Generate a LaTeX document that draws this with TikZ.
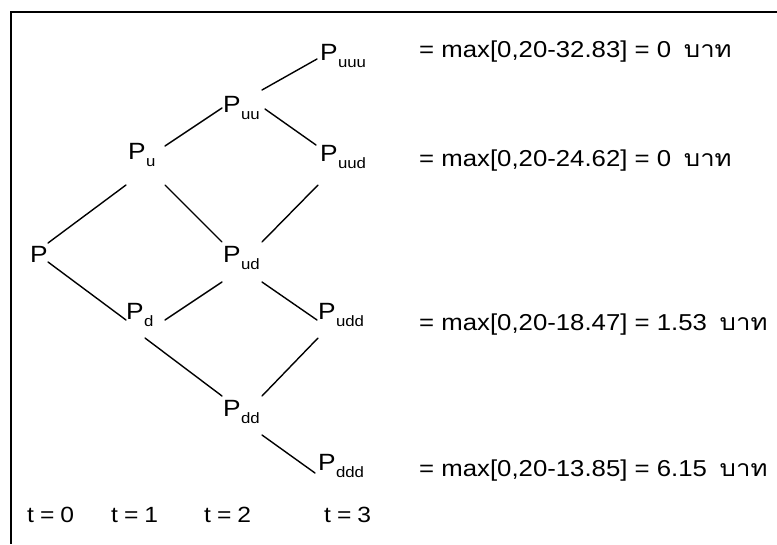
\documentclass[tikz,border=0pt]{standalone}
\usepackage{fontspec}
\setmainfont[FakeStretch=1.12]{Liberation Sans}
\newfontfamily\thaifont[Script=Thai,FakeStretch=1.12]{Loma}
\newcommand{\Pn}[1]{P\kern0.3pt\raisebox{-7pt}{\fontsize{15}{15}\selectfont #1}}
\newcommand{\baht}{\hspace{0.55em}{\thaifont บาท}}
\tikzset{
  tree/.style={inner sep=0pt, anchor=base west, font=\fontsize{23.5}{23.5}\selectfont},
  eqn/.style={inner sep=0pt, anchor=base west, font=\fontsize{23}{23}\selectfont},
  tlab/.style={inner sep=0pt, anchor=base west, font=\fontsize{22}{22}\selectfont},
  edge/.style={line width=1.4pt, line cap=round},
  frame/.style={line width=2pt}
}
\begin{document}
\begin{tikzpicture}[x=1pt,y=-1pt]
\useasboundingbox (0,0) rectangle (777,544);
% frame
\coordinate (fa) at (777,12);
\coordinate (fb) at (11,12);
\coordinate (fc) at (11,544);
\draw[frame] (fa) -- (fb) -- (fc);
% tree nodes
\node[tree] (P)    at (30,262)  {P};
\node[tree] (Pu)   at (128,159) {\Pn{u}};
\node[tree] (Pd)   at (126,319) {\Pn{d}};
\node[tree] (Puu)  at (223,112) {\Pn{uu}};
\node[tree] (Pud)  at (223,262) {\Pn{ud}};
\node[tree] (Pdd)  at (223,416) {\Pn{dd}};
\node[tree] (Puuu) at (320,60)  {\Pn{uuu}};
\node[tree] (Puud) at (320,161) {\Pn{uud}};
\node[tree] (Pudd) at (318,319) {\Pn{udd}};
\node[tree] (Pddd) at (318,470) {\Pn{ddd}};
% edges
\draw[edge] ([shift={(18,-19)}]P.base west) -- ([shift={(-2,26)}]Pu.base west);
\draw[edge] ([shift={(37,-13)}]Pu.base west) -- ([shift={(-1,-4)}]Puu.base west);
\draw[edge] ([shift={(39,-22)}]Puu.base west) -- ([shift={(-3,-1)}]Puuu.base west);
\draw[edge] ([shift={(42,-3)}]Puu.base west) -- ([shift={(-4,-16)}]Puud.base west);
\draw[edge] ([shift={(37,26)}]Pu.base west) -- ([shift={(-1,-20)}]Pud.base west);
\draw[edge] ([shift={(-2,24)}]Puud.base west) -- ([shift={(39,-20)}]Pud.base west);
\draw[edge] ([shift={(18,0)}]P.base west) -- ([shift={(0,1)}]Pd.base west);
\draw[edge] ([shift={(39,1)}]Pd.base west) -- ([shift={(-1,20)}]Pud.base west);
\draw[edge] ([shift={(39,20)}]Pud.base west) -- ([shift={(-1,1)}]Pudd.base west);
\draw[edge] ([shift={(19,19)}]Pd.base west) -- ([shift={(-1,-20)}]Pdd.base west);
\draw[edge] ([shift={(0,19)}]Pudd.base west) -- ([shift={(39,-20)}]Pdd.base west);
\draw[edge] ([shift={(39,19)}]Pdd.base west) -- ([shift={(-3,3)}]Pddd.base west);
% payoffs
\node[eqn] (e1) at (419,57)  {= max[0,20-32.83] = 0\baht};
\node[eqn] (e2) at (419,166) {= max[0,20-24.62] = 0\baht};
\node[eqn] (e3) at (419,330) {= max[0,20-18.47] = 1.53\baht};
\node[eqn] (e4) at (419,476) {= max[0,20-13.85] = 6.15\baht};
% time labels
\node[tlab] (t0) at (27,522)  {t\hspace{6pt}=\hspace{6pt}0};
\node[tlab] (t1) at (111,522) {t\hspace{6pt}=\hspace{6pt}1};
\node[tlab] (t2) at (204,522) {t\hspace{6pt}=\hspace{6pt}2};
\node[tlab] (t3) at (324,522) {t\hspace{6pt}=\hspace{6pt}3};
\end{tikzpicture}
\end{document}
